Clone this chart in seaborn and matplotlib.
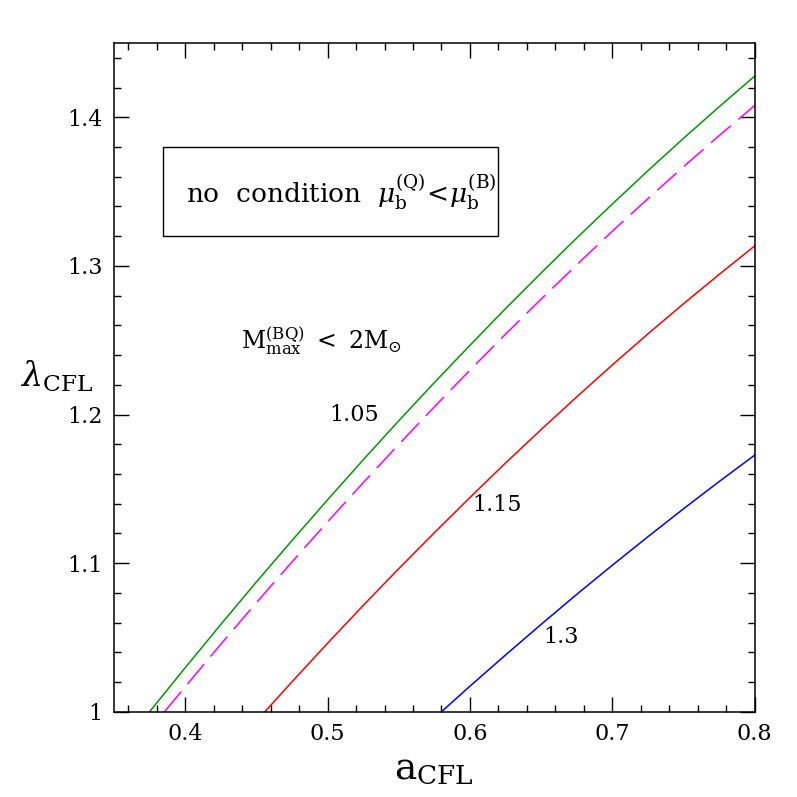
import numpy as np
import pandas as pd
import seaborn as sns
import matplotlib.pyplot as plt
from matplotlib.patches import Rectangle
from matplotlib.ticker import MultipleLocator

# curves (a_CFL, lambda_CFL)
a_green = [0.375, 0.40, 0.425, 0.45, 0.475, 0.50, 0.525, 0.55, 0.575, 0.60,
           0.625, 0.65, 0.675, 0.70, 0.725, 0.75, 0.775, 0.80]
lam_green = [1.0000, 1.0296, 1.0587, 1.0873, 1.1152, 1.1426, 1.1695, 1.1958, 1.2215, 1.2466,
             1.2713, 1.2953, 1.3188, 1.3417, 1.3641, 1.3859, 1.4071, 1.4278]

a_magenta = [0.3855, 0.40, 0.425, 0.45, 0.475, 0.50, 0.525, 0.55, 0.575, 0.60,
             0.625, 0.65, 0.675, 0.70, 0.725, 0.75, 0.775, 0.80]
lam_magenta = [1.0000, 1.0168, 1.0454, 1.0734, 1.1008, 1.1278, 1.1541, 1.1799, 1.2052, 1.2299,
               1.2541, 1.2777, 1.3008, 1.3234, 1.3453, 1.3668, 1.3877, 1.4080]

a_red = [0.456, 0.475, 0.50, 0.525, 0.55, 0.575, 0.60, 0.625, 0.65, 0.675,
         0.70, 0.725, 0.75, 0.775, 0.80]
lam_red = [1.0000, 1.0201, 1.0461, 1.0715, 1.0963, 1.1205, 1.1442, 1.1674, 1.1899, 1.2119,
           1.2334, 1.2543, 1.2746, 1.2943, 1.3135]

a_blue = [0.58, 0.60, 0.625, 0.65, 0.675, 0.70, 0.725, 0.75, 0.775, 0.80]
lam_blue = [1.0000, 1.0172, 1.0382, 1.0588, 1.0790, 1.0986, 1.1178, 1.1366, 1.1549, 1.1727]

xticks = [0.4, 0.5, 0.6, 0.7, 0.8]
xtick_labels = ['0.4', '0.5', '0.6', '0.7', '0.8']
yticks = [1.0, 1.1, 1.2, 1.3, 1.4]
ytick_labels = ['1', '1.1', '1.2', '1.3', '1.4']

curve_labels = ['1.05', '1.15', '1.3']
curve_label_pos = [(0.519, 1.200), (0.619, 1.139), (0.664, 1.050)]

sns.set_style('ticks')
plt.rcParams['font.family'] = ['DejaVu Serif']
plt.rcParams['mathtext.fontset'] = 'dejavuserif'
plt.rcParams['text.color'] = 'black'
plt.rcParams['axes.labelcolor'] = 'black'

fig = plt.figure(figsize=(7.97, 7.97), dpi=100)
ax = fig.add_axes([0.143, 0.107, 0.804, 0.839])

df_green = pd.DataFrame({'a': a_green, 'lam': lam_green})
df_mag = pd.DataFrame({'a': a_magenta, 'lam': lam_magenta})
df_red = pd.DataFrame({'a': a_red, 'lam': lam_red})
df_blue = pd.DataFrame({'a': a_blue, 'lam': lam_blue})

sns.lineplot(data=df_green, x='a', y='lam', color='#009900', lw=1.1, sort=False, estimator=None, ax=ax)
sns.lineplot(data=df_mag, x='a', y='lam', color='#ff00ff', lw=1.1, sort=False, estimator=None, ax=ax)
ax.lines[-1].set_dashes((17, 6.5))
sns.lineplot(data=df_red, x='a', y='lam', color='#ff0000', lw=1.1, sort=False, estimator=None, ax=ax)
sns.lineplot(data=df_blue, x='a', y='lam', color='#0000ff', lw=1.1, sort=False, estimator=None, ax=ax)

ax.set_xlim(0.35, 0.8)
ax.set_ylim(1.0, 1.45)
ax.set_xticks(xticks, xtick_labels)
ax.set_yticks(yticks, ytick_labels)
ax.xaxis.set_minor_locator(MultipleLocator(0.02))
ax.yaxis.set_minor_locator(MultipleLocator(0.02))
ax.tick_params(which='both', direction='in', top=True, right=True, width=1.0,
               color='black', labelcolor='black')
ax.tick_params(which='major', length=11, labelsize=16, pad=8)
ax.tick_params(which='minor', length=5)
for sp in ax.spines.values():
    sp.set_linewidth(1.1)
    sp.set_color('black')

ax.set_xlabel(r'$\mathrm{a}_{\mathrm{CFL}}$', fontsize=27)
ax.xaxis.set_label_coords(0.5, -0.058)
ax.set_ylabel(r'$\lambda_{\mathrm{CFL}}$', fontsize=24, rotation=0)
ax.yaxis.set_label_coords(-0.089, 0.475)

# box with the condition text
ax.add_patch(Rectangle((0.0764, 0.711), 0.5226, 0.1335, transform=ax.transAxes,
                       fill=False, lw=1.0, ec='black'))
ax.text(0.112, 0.776, r'no  condition  $\mu_{\mathrm{b}}^{(\mathrm{Q})}\!<\!\mu_{\mathrm{b}}^{(\mathrm{B})}$',
        transform=ax.transAxes, fontsize=19, va='center', ha='left')

ax.text(0.4957, 1.250, r'$\mathrm{M}^{(\mathrm{BQ})}_{\mathrm{max}}\ <\ 2\mathrm{M}_{\odot}$',
        fontsize=17, ha='center', va='center')

for txt, (x, y) in zip(curve_labels, curve_label_pos):
    ax.text(x, y, txt, fontsize=16, ha='center', va='center')

fig.savefig('out.png', dpi=100)
